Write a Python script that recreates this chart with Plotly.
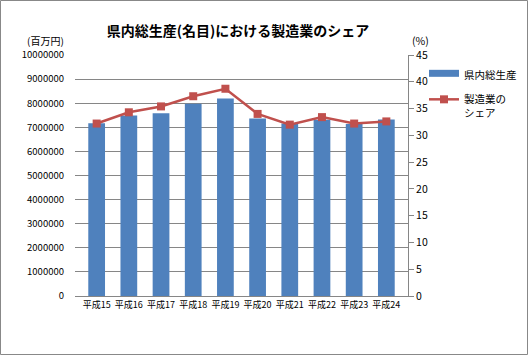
import plotly.graph_objects as go

# ---- data ----
categories = ["平成15", "平成16", "平成17", "平成18", "平成19",
              "平成20", "平成21", "平成22", "平成23", "平成24"]
gdp_values = [7170000, 7490000, 7580000, 7980000, 8200000,
              7370000, 7160000, 7310000, 7140000, 7320000]
mfg_share = [32.2, 34.3, 35.4, 37.3, 38.7, 34.0, 32.0, 33.4, 32.2, 32.6]
left_ticks = [0, 1000000, 2000000, 3000000, 4000000, 5000000,
              6000000, 7000000, 8000000, 9000000, 10000000]
right_ticks = [0, 5, 10, 15, 20, 25, 30, 35, 40, 45]

BAR_COLOR = "#4F81BD"
LINE_COLOR = "#C0504D"
FONT = "Noto Sans CJK JP"

W, H = 528, 355
L, R, T, B = 75, 120, 55, 59
pw, ph = W - L - R, H - T - B

fig = go.Figure()
fig.add_trace(go.Bar(
    x=categories, y=gdp_values, name="県内総生産",
    marker=dict(color=BAR_COLOR, line=dict(width=0)),
    showlegend=False, yaxis="y", legendgroup="g1",
))
# legend swatch for the bar series (Excel-style wide bar)
fig.add_trace(go.Scatter(
    x=[None], y=[None], mode="lines", name="県内総生産",
    line=dict(color=BAR_COLOR, width=7), yaxis="y", legendgroup="g1",
))
fig.add_trace(go.Scatter(
    x=categories, y=mfg_share, name="製造業の<br>シェア",
    mode="lines+markers", yaxis="y2", legendgroup="g2",
    line=dict(color=LINE_COLOR, width=2.5),
    marker=dict(symbol="square", size=8, color=LINE_COLOR),
))

fig.update_layout(
    width=W, height=H,
    margin=dict(l=L, r=R, t=T, b=B, autoexpand=False),
    paper_bgcolor="white", plot_bgcolor="white",
    font=dict(family=FONT, size=10, color="#000000"),
    bargap=0.48,
    title=dict(text="<b>県内総生産(名目)における製造業のシェア</b>",
               x=238 / W, xanchor="center", y=1 - 31 / H, yanchor="middle",
               font=dict(size=14, family=FONT, color="#000000")),
    xaxis=dict(
        showline=True, linecolor="#868686", linewidth=1,
        ticks="", tickfont=dict(size=9, family=FONT),
        showgrid=False, zeroline=False,
    ),
    yaxis=dict(
        range=[0, 10000000], tickvals=left_ticks,
        ticktext=[str(v) for v in left_ticks],
        showgrid=True, gridcolor="#868686", gridwidth=1,
        showline=False, zeroline=False, ticks="",
        ticklabelstandoff=10,
        tickfont=dict(size=9.5, family=FONT),
    ),
    yaxis2=dict(
        range=[0, 45], tickvals=right_ticks, overlaying="y", side="right",
        showgrid=False, zeroline=False,
        showline=True, linecolor="#868686", linewidth=1,
        ticks="outside", ticklen=5, tickcolor="#868686",
        tickfont=dict(size=10.5, family=FONT),
    ),
    legend=dict(
        x=(424 - L) / pw, xanchor="left",
        y=(T + ph - 60) / ph, yanchor="top",
        bgcolor="rgba(0,0,0,0)", borderwidth=0,
        font=dict(size=10.5, family=FONT),
        tracegroupgap=7, valign="top",
    ),
    shapes=[dict(
        type="rect", xref="paper", yref="paper",
        x0=(0.5 - L) / pw, x1=(W - 0.5 - L) / pw,
        y0=(ph + T - (H - 0.5)) / ph, y1=(ph + T - 0.5) / ph,
        line=dict(color="#888888", width=1), fillcolor="rgba(0,0,0,0)",
        layer="below",
    )],
    annotations=[
        dict(text="(百万円)", xref="paper", yref="paper",
             x=(45 - L) / pw, y=(T + ph - 40) / ph, showarrow=False,
             xanchor="center", yanchor="middle",
             font=dict(size=10, family=FONT)),
        dict(text="(%)", xref="paper", yref="paper",
             x=(421 - L) / pw, y=(T + ph - 40) / ph, showarrow=False,
             xanchor="center", yanchor="middle",
             font=dict(size=10.5, family=FONT)),
    ],
)

fig.write_html("out.html", config={"displayModeBar": False},
               post_script="document.body.style.margin='0';")
